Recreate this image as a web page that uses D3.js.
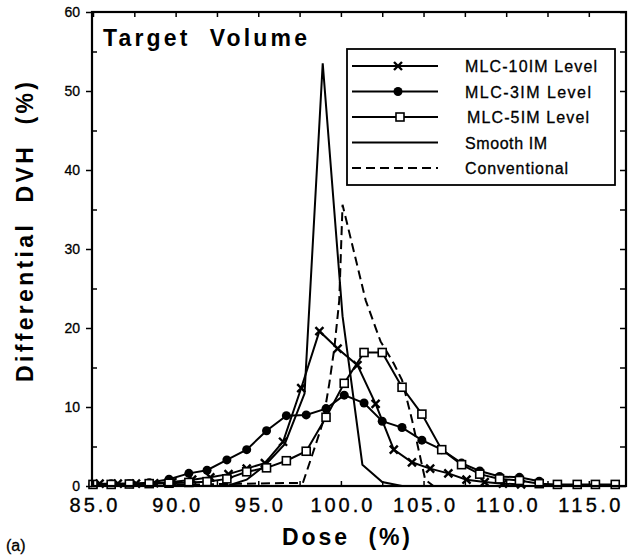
<!DOCTYPE html>
<html>
<head>
<meta charset="utf-8">
<script src="https://cdn.jsdelivr.net/npm/d3@7"></script>
<style>
  html, body { margin: 0; padding: 0; background: #fff; }
  svg { display: block; font-family: "Liberation Sans", Arial, Helvetica, sans-serif; }
</style>
</head>
<body>
<svg id="chart" width="633" height="556"></svg>
<script>
// ---------- data ----------
const binDoses = [85.0, 86.1, 87.2, 88.4, 89.6, 90.8, 91.9, 93.1, 94.3, 95.5, 96.7, 97.9, 99.1, 100.2,
                  101.4, 102.5, 103.7, 104.9, 106.1, 107.3, 108.4, 109.6, 110.8, 112.0, 113.1, 114.3, 115.4, 116.6];

const mlc10Doses = [85.4, 86.5, 87.6, 88.7, 89.8, 91.0, 92.1, 93.2, 94.3, 95.4, 96.5, 97.6, 98.7, 99.8,
                    101.0, 102.1, 103.2, 104.3, 105.4, 106.5, 107.6, 108.7, 109.8, 110.9];
const mlc10Values = [0.3, 0.3, 0.3, 0.35, 0.5, 0.8, 1.1, 1.5, 2.2, 2.9, 5.6, 12.4, 19.6, 17.4,
                     15.3, 10.4, 4.6, 3.0, 2.2, 1.6, 0.8, 0.5, 0.3, 0.2];

const mlc3Doses = [85.0, 86.1, 87.2, 88.4, 89.6, 90.8, 91.9, 93.1, 94.3, 95.5, 96.7, 97.9, 99.1, 100.2,
                   101.4, 102.5, 103.7, 104.9, 106.1, 107.3, 108.4, 109.6, 110.8, 112.0];
const mlc3Values = [0.2, 0.3, 0.3, 0.4, 0.85, 1.6, 2.0, 3.3, 4.6, 7.0, 8.9, 9.0, 9.8, 11.5,
                    10.5, 8.2, 7.4, 5.8, 4.6, 2.9, 1.9, 1.2, 1.1, 0.6];

const mlc5Doses = binDoses;
const mlc5Values = [0.2, 0.2, 0.25, 0.3, 0.35, 0.45, 0.55, 0.9, 1.8, 2.3, 3.2, 4.4, 8.7, 13.0,
                    16.9, 16.9, 12.5, 9.1, 4.6, 2.7, 1.5, 0.9, 0.7, 0.3, 0.2, 0.2, 0.2, 0.2];

const smoothDoses = [85.0, 93.1, 94.3, 95.4, 96.6, 97.8, 98.9, 100.1, 101.3, 102.5, 103.7, 116.6];
const smoothValues = [0, 0, 0.8, 2.6, 5.3, 11.7, 53.5, 21.5, 2.7, 0.5, 0, 0];

const convDoses = [85.0, 97.7, 98.5, 98.9, 99.3, 99.6, 99.9, 100.1, 101.5, 102.4, 103.2, 103.7,
                   104.3, 104.7, 105.1, 105.6, 116.6];
const convValues = [0, 0.4, 5.4, 8.0, 13.0, 17.4, 23.5, 35.6, 23.5, 18.3, 15.5, 13.4,
                    8.4, 4.6, 0.8, 0, 0];

const xTickValues = [85, 90, 95, 100, 105, 110, 115];
const xMinorTicks = [85, 87.5, 90, 92.5, 95, 97.5, 100, 102.5, 105, 107.5, 110, 112.5, 115];
const yTickValues = [0, 10, 20, 30, 40, 50, 60];
const yMinorTicks = [5, 15, 25, 35, 45, 55];

const seriesNames = ["MLC-10IM Level", "MLC-3IM Level", "MLC-5IM Level", "Smooth IM", "Conventional"];
const titleText = "Target  Volume";
const xTitle = "Dose  (%)";
const yTitle = "Differential  DVH  (%)";
const panelLabel = "(a)";

// ---------- layout ----------
const svg = d3.select("#chart");
const L = 92, R = 626, T = 12, B = 486;
const x = d3.scaleLinear().domain([84.94, 117.25]).range([L, R]);
const y = d3.scaleLinear().domain([0, 60]).range([B, T]);

const pts = (ds, vs) => ds.map((d, i) => [d, vs[i]]);
const line = d3.line().x(d => x(d[0])).y(d => y(d[1]));

const plot = svg.append("g");

// lines
plot.append("path").datum(pts(convDoses, convValues)).attr("d", line)
  .attr("fill", "none").attr("stroke", "#000").attr("stroke-width", 2).attr("stroke-dasharray", "9,5");
plot.append("path").datum(pts(smoothDoses, smoothValues)).attr("d", line)
  .attr("fill", "none").attr("stroke", "#000").attr("stroke-width", 2);
plot.append("path").datum(pts(mlc10Doses, mlc10Values)).attr("d", line)
  .attr("fill", "none").attr("stroke", "#000").attr("stroke-width", 2);
plot.append("path").datum(pts(mlc3Doses, mlc3Values)).attr("d", line)
  .attr("fill", "none").attr("stroke", "#000").attr("stroke-width", 2);
plot.append("path").datum(pts(mlc5Doses, mlc5Values)).attr("d", line)
  .attr("fill", "none").attr("stroke", "#000").attr("stroke-width", 2);

// markers
const crossPath = (cx, cy, s) => `M${cx - s},${cy - s}L${cx + s},${cy + s}M${cx - s},${cy + s}L${cx + s},${cy - s}`;
plot.append("g").selectAll("path").data(pts(mlc10Doses, mlc10Values)).join("path")
  .attr("d", d => crossPath(x(d[0]), y(d[1]), 4))
  .attr("stroke", "#000").attr("stroke-width", 2.4).attr("fill", "none");
plot.append("g").selectAll("circle").data(pts(mlc3Doses, mlc3Values)).join("circle")
  .attr("cx", d => x(d[0])).attr("cy", d => y(d[1])).attr("r", 4.5).attr("fill", "#000");
plot.append("g").selectAll("rect").data(pts(mlc5Doses, mlc5Values)).join("rect")
  .attr("x", d => x(d[0]) - 4).attr("y", d => y(d[1]) - 4).attr("width", 8).attr("height", 8)
  .attr("fill", "#fff").attr("stroke", "#000").attr("stroke-width", 1.6);

// ---------- axes ----------
const noDomain = g => g.select(".domain").remove();
// bottom labels
const xAxisG = svg.append("g").attr("transform", `translate(0,${B})`)
  .call(d3.axisBottom(x).tickValues(xTickValues).tickFormat(d3.format(".1f")).tickSize(0).tickPadding(12))
  .call(noDomain);
xAxisG.selectAll("text").attr("font-size", 20).attr("fill", "#000")
  .attr("stroke", "#000").attr("stroke-width", 0.35)
  .attr("font-family", "Liberation Sans, Arial, sans-serif")
  .attr("textLength", function() { return this.textContent.length > 4 ? 62 : 48; })
  .attr("lengthAdjust", "spacing");
// bottom inward ticks
svg.append("g").attr("transform", `translate(0,${B})`)
  .call(d3.axisBottom(x).tickValues(xMinorTicks).tickSize(-5).tickFormat(""))
  .call(noDomain).selectAll("line").attr("stroke-width", 1.5);
// top inward ticks
svg.append("g").attr("transform", `translate(0,${T})`)
  .call(d3.axisTop(x).tickValues(xMinorTicks).tickSize(-5).tickFormat(""))
  .call(noDomain).selectAll("line").attr("stroke-width", 1.5);
// left labels + outward major ticks
const yAxisG = svg.append("g").attr("transform", `translate(${L},0)`)
  .call(d3.axisLeft(y).tickValues(yTickValues).tickSize(6).tickPadding(6))
  .call(noDomain);
yAxisG.selectAll("line").attr("stroke-width", 1.5);
yAxisG.selectAll("text").attr("font-size", 14).attr("fill", "#000")
  .attr("stroke", "#000").attr("stroke-width", 0.3)
  .attr("font-family", "Liberation Sans, Arial, sans-serif");
// left inward minor ticks
svg.append("g").attr("transform", `translate(${L},0)`)
  .call(d3.axisLeft(y).tickValues(yMinorTicks).tickSize(-5).tickFormat(""))
  .call(noDomain).selectAll("line").attr("stroke-width", 1.5);
// right inward ticks
svg.append("g").attr("transform", `translate(${R},0)`)
  .call(d3.axisRight(y).tickValues(yMinorTicks.concat(yTickValues)).tickSize(-6).tickFormat(""))
  .call(noDomain).selectAll("line").attr("stroke-width", 1.5);

// frame
svg.append("rect").attr("x", L).attr("y", T).attr("width", R - L).attr("height", B - T)
  .attr("fill", "none").attr("stroke", "#000").attr("stroke-width", 2.2);

// ---------- titles ----------
svg.append("text").attr("x", 103).attr("y", 46).attr("font-size", 23).attr("font-weight", "bold")
  .attr("textLength", 204).attr("lengthAdjust", "spacing")
  .style("white-space", "pre").text(titleText);
svg.append("text").attr("x", 346).attr("y", 545).attr("text-anchor", "middle")
  .attr("font-size", 23).attr("font-weight", "bold")
  .attr("textLength", 128).attr("lengthAdjust", "spacing").style("white-space", "pre").text(xTitle);
svg.append("text").attr("transform", "translate(33,232) rotate(-90)").attr("text-anchor", "middle")
  .attr("font-size", 23).attr("font-weight", "bold")
  .attr("textLength", 300).attr("lengthAdjust", "spacing").style("white-space", "pre").text(yTitle);
svg.append("text").attr("x", 6).attr("y", 551).attr("font-size", 16)
  .attr("stroke", "#000").attr("stroke-width", 0.3).text(panelLabel);

// ---------- legend ----------
const lg = svg.append("g");
lg.append("rect").attr("x", 347).attr("y", 49).attr("width", 268).attr("height", 136)
  .attr("fill", "#fff").attr("stroke", "#000").attr("stroke-width", 1.8);
const legRowY = d3.scalePoint().domain(seriesNames).range([66, 168]);
const legX0 = 352, legX1 = 438, legM = 398, legText = 465;
const textLens = [132, 126, 122, 82, 103];
seriesNames.forEach((name, i) => {
  const cy = legRowY(name);
  lg.append("line").attr("x1", legX0).attr("x2", legX1).attr("y1", cy).attr("y2", cy)
    .attr("stroke", "#000").attr("stroke-width", i === 4 ? 1.8 : 2)
    .attr("stroke-dasharray", i === 4 ? "9,5" : null);
  if (i === 0) lg.append("path").attr("d", crossPath(legM, cy, 4)).attr("stroke", "#000").attr("stroke-width", 2.4);
  if (i === 1) lg.append("circle").attr("cx", legM).attr("cy", cy).attr("r", 4.5).attr("fill", "#000");
  if (i === 2) lg.append("rect").attr("x", legM + 2 - 4).attr("y", cy - 4).attr("width", 8).attr("height", 8)
    .attr("fill", "#fff").attr("stroke", "#000").attr("stroke-width", 1.6);
  lg.append("text").attr("x", legText + (i === 2 ? 2 : 0)).attr("y", cy + 6).attr("font-size", 16)
    .attr("stroke", "#000").attr("stroke-width", 0.3)
    .attr("textLength", textLens[i]).attr("lengthAdjust", "spacing").text(name);
});
</script>
</body>
</html>
